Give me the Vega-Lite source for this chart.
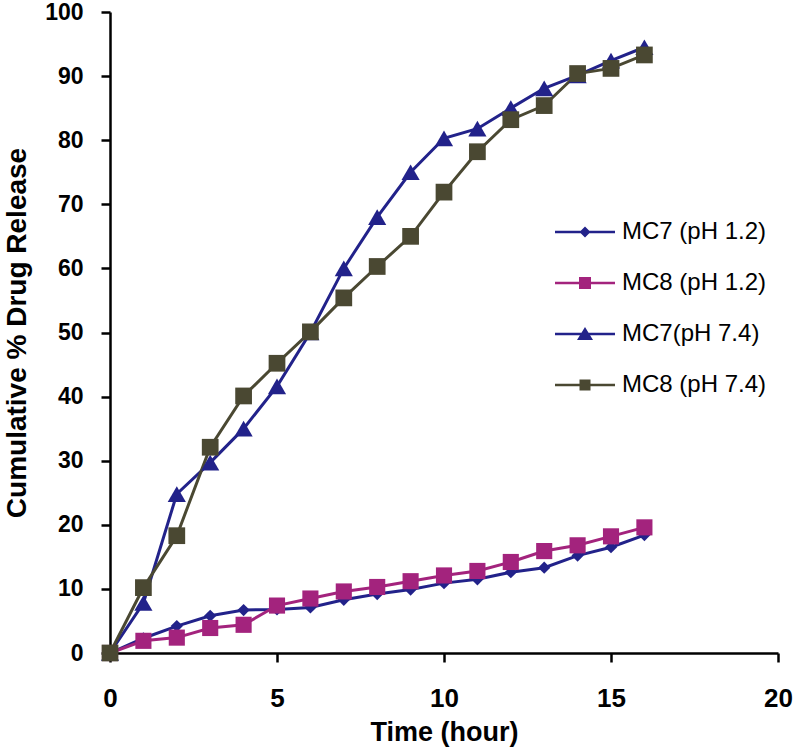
{
  "$schema": "https://vega.github.io/schema/vega-lite/v6.json",
  "width": 668,
  "height": 641,
  "autosize": {"type": "none"},
  "padding": {"left": 110, "top": 12, "right": 15, "bottom": 96},
  "background": "white",
  "config": {
    "view": {"stroke": null},
    "font": "Liberation Sans"
  },
  "data": {
    "values": [
      {"series": "MC7 (pH 1.2)", "t": 0, "v": 0},
      {"series": "MC7 (pH 1.2)", "t": 1, "v": 2.3},
      {"series": "MC7 (pH 1.2)", "t": 2, "v": 4.2},
      {"series": "MC7 (pH 1.2)", "t": 3, "v": 5.8},
      {"series": "MC7 (pH 1.2)", "t": 4, "v": 6.7},
      {"series": "MC7 (pH 1.2)", "t": 5, "v": 6.8},
      {"series": "MC7 (pH 1.2)", "t": 6, "v": 7.1},
      {"series": "MC7 (pH 1.2)", "t": 7, "v": 8.3},
      {"series": "MC7 (pH 1.2)", "t": 8, "v": 9.2},
      {"series": "MC7 (pH 1.2)", "t": 9, "v": 9.9},
      {"series": "MC7 (pH 1.2)", "t": 10, "v": 10.9},
      {"series": "MC7 (pH 1.2)", "t": 11, "v": 11.5},
      {"series": "MC7 (pH 1.2)", "t": 12, "v": 12.6},
      {"series": "MC7 (pH 1.2)", "t": 13, "v": 13.3},
      {"series": "MC7 (pH 1.2)", "t": 14, "v": 15.2},
      {"series": "MC7 (pH 1.2)", "t": 15, "v": 16.5},
      {"series": "MC7 (pH 1.2)", "t": 16, "v": 18.4},
      {"series": "MC8 (pH 1.2)", "t": 0, "v": 0},
      {"series": "MC8 (pH 1.2)", "t": 1, "v": 1.9},
      {"series": "MC8 (pH 1.2)", "t": 2, "v": 2.4},
      {"series": "MC8 (pH 1.2)", "t": 3, "v": 3.9},
      {"series": "MC8 (pH 1.2)", "t": 4, "v": 4.4},
      {"series": "MC8 (pH 1.2)", "t": 5, "v": 7.4},
      {"series": "MC8 (pH 1.2)", "t": 6, "v": 8.5},
      {"series": "MC8 (pH 1.2)", "t": 7, "v": 9.6},
      {"series": "MC8 (pH 1.2)", "t": 8, "v": 10.3},
      {"series": "MC8 (pH 1.2)", "t": 9, "v": 11.2},
      {"series": "MC8 (pH 1.2)", "t": 10, "v": 12.1},
      {"series": "MC8 (pH 1.2)", "t": 11, "v": 12.8},
      {"series": "MC8 (pH 1.2)", "t": 12, "v": 14.2},
      {"series": "MC8 (pH 1.2)", "t": 13, "v": 15.9},
      {"series": "MC8 (pH 1.2)", "t": 14, "v": 16.8},
      {"series": "MC8 (pH 1.2)", "t": 15, "v": 18.2},
      {"series": "MC8 (pH 1.2)", "t": 16, "v": 19.6},
      {"series": "MC7(pH 7.4)", "t": 0, "v": 0},
      {"series": "MC7(pH 7.4)", "t": 1, "v": 7.8},
      {"series": "MC7(pH 7.4)", "t": 2, "v": 24.8},
      {"series": "MC7(pH 7.4)", "t": 3, "v": 29.7},
      {"series": "MC7(pH 7.4)", "t": 4, "v": 35},
      {"series": "MC7(pH 7.4)", "t": 5, "v": 41.6},
      {"series": "MC7(pH 7.4)", "t": 6, "v": 50},
      {"series": "MC7(pH 7.4)", "t": 7, "v": 60},
      {"series": "MC7(pH 7.4)", "t": 8, "v": 68},
      {"series": "MC7(pH 7.4)", "t": 9, "v": 75},
      {"series": "MC7(pH 7.4)", "t": 10, "v": 80.3},
      {"series": "MC7(pH 7.4)", "t": 11, "v": 81.8},
      {"series": "MC7(pH 7.4)", "t": 12, "v": 85},
      {"series": "MC7(pH 7.4)", "t": 13, "v": 88.1},
      {"series": "MC7(pH 7.4)", "t": 14, "v": 90.1},
      {"series": "MC7(pH 7.4)", "t": 15, "v": 92.4},
      {"series": "MC7(pH 7.4)", "t": 16, "v": 94.5},
      {"series": "MC8 (pH 7.4)", "t": 0, "v": 0},
      {"series": "MC8 (pH 7.4)", "t": 1, "v": 10.2},
      {"series": "MC8 (pH 7.4)", "t": 2, "v": 18.3},
      {"series": "MC8 (pH 7.4)", "t": 3, "v": 32.1},
      {"series": "MC8 (pH 7.4)", "t": 4, "v": 40.1},
      {"series": "MC8 (pH 7.4)", "t": 5, "v": 45.2},
      {"series": "MC8 (pH 7.4)", "t": 6, "v": 50.1},
      {"series": "MC8 (pH 7.4)", "t": 7, "v": 55.4},
      {"series": "MC8 (pH 7.4)", "t": 8, "v": 60.3},
      {"series": "MC8 (pH 7.4)", "t": 9, "v": 65},
      {"series": "MC8 (pH 7.4)", "t": 10, "v": 71.9},
      {"series": "MC8 (pH 7.4)", "t": 11, "v": 78.2},
      {"series": "MC8 (pH 7.4)", "t": 12, "v": 83.2},
      {"series": "MC8 (pH 7.4)", "t": 13, "v": 85.4},
      {"series": "MC8 (pH 7.4)", "t": 14, "v": 90.4},
      {"series": "MC8 (pH 7.4)", "t": 15, "v": 91.2},
      {"series": "MC8 (pH 7.4)", "t": 16, "v": 93.3}
    ]
  },
  "encoding": {
    "x": {
      "field": "t", "type": "quantitative",
      "scale": {"domain": [0, 20], "nice": false, "zero": true},
      "axis": {
        "title": "Time (hour)", "values": [0, 5, 10, 15, 20], "grid": false,
        "domainColor": "black", "domainWidth": 2.5, "tickColor": "black", "tickWidth": 2.5, "tickSize": 9,
        "labelFont": "Liberation Sans", "labelFontSize": 26, "labelFontWeight": "bold", "labelColor": "black",
        "labelPadding": 23, "labelFlush": false, "labelOverlap": false,
        "titleFont": "Liberation Sans", "titleFontSize": 27, "titleFontWeight": "bold", "titleColor": "black",
        "titleBaseline": "alphabetic", "titleY": 87
      }
    },
    "y": {
      "field": "v", "type": "quantitative",
      "scale": {"domain": [0, 100], "nice": false},
      "axis": {
        "title": "Cumulative % Drug Release", "values": [0, 10, 20, 30, 40, 50, 60, 70, 80, 90, 100], "grid": false,
        "domainColor": "black", "domainWidth": 2.5, "tickColor": "black", "tickWidth": 2.5, "tickSize": 9,
        "labelFont": "Liberation Sans", "labelFontSize": 23, "labelFontWeight": "bold", "labelColor": "black",
        "labelPadding": 18, "labelFlush": false, "labelOverlap": false,
        "titleFont": "Liberation Sans", "titleFontSize": 28, "titleFontWeight": "bold", "titleColor": "black",
        "titleBaseline": "bottom", "titleX": -79
      }
    }
  },
  "layer": [
    {
      "mark": {"type": "line", "strokeWidth": 3},
      "encoding": {
        "color": {
          "field": "series", "type": "nominal",
          "scale": {
            "domain": ["MC7 (pH 1.2)", "MC8 (pH 1.2)", "MC7(pH 7.4)", "MC8 (pH 7.4)"],
            "range": ["#22228a", "#a3237d", "#22228a", "#4a4832"]
          },
          "legend": {
            "title": null, "orient": "none", "legendX": 463, "legendY": 208, "padding": 0,
            "symbolSize": 400, "symbolStrokeWidth": 0, "labelFont": "Liberation Sans", "labelFontSize": 24,
            "labelColor": "black", "labelOffset": 25, "rowPadding": 27,
            "encode": {
              "symbols": {
                "update": {
                  "shape": {"signal": "datum.value === 'MC7 (pH 1.2)' ? 'M-3,-0.13L3,-0.13L3,0.13L-3,0.13ZM0,-0.55L0.55,0L0,0.55L-0.55,0Z' : datum.value === 'MC8 (pH 1.2)' ? 'M-3,-0.13L3,-0.13L3,0.13L-3,0.13ZM-0.6,-0.6L0.6,-0.6L0.6,0.6L-0.6,0.6Z' : datum.value === 'MC7(pH 7.4)' ? 'M-3,-0.13L3,-0.13L3,0.13L-3,0.13ZM0,-0.7L0.8,0.6L-0.8,0.6Z' : 'M-3,-0.13L3,-0.13L3,0.13L-3,0.13ZM-0.55,-0.55L0.55,-0.55L0.55,0.55L-0.55,0.55Z'"},
                  "fill": {"signal": "scale('color', datum.value)"},
                  "stroke": {"value": "transparent"},
                  "strokeWidth": {"value": 0},
                  "size": {"value": 400},
                  "opacity": {"value": 1}
                }
              }
            }
          }
        }
      }
    },
    {
      "transform": [{"filter": "datum.series === 'MC7 (pH 1.2)'"}],
      "mark": {"type": "point", "filled": true, "opacity": 1, "strokeWidth": 0, "shape": "diamond", "size": 150, "color": "#22228a"}
    },
    {
      "transform": [{"filter": "datum.series === 'MC8 (pH 1.2)'"}],
      "mark": {"type": "point", "filled": true, "opacity": 1, "strokeWidth": 0, "shape": "square", "size": 260, "color": "#a3237d"}
    },
    {
      "transform": [{"filter": "datum.series === 'MC7(pH 7.4)'"}],
      "mark": {"type": "point", "filled": true, "opacity": 1, "strokeWidth": 0, "shape": "triangle-up", "size": 330, "color": "#22228a"}
    },
    {
      "transform": [{"filter": "datum.series === 'MC8 (pH 7.4)'"}],
      "mark": {"type": "point", "filled": true, "opacity": 1, "strokeWidth": 0, "shape": "square", "size": 280, "color": "#4a4832"}
    }
  ]
}
